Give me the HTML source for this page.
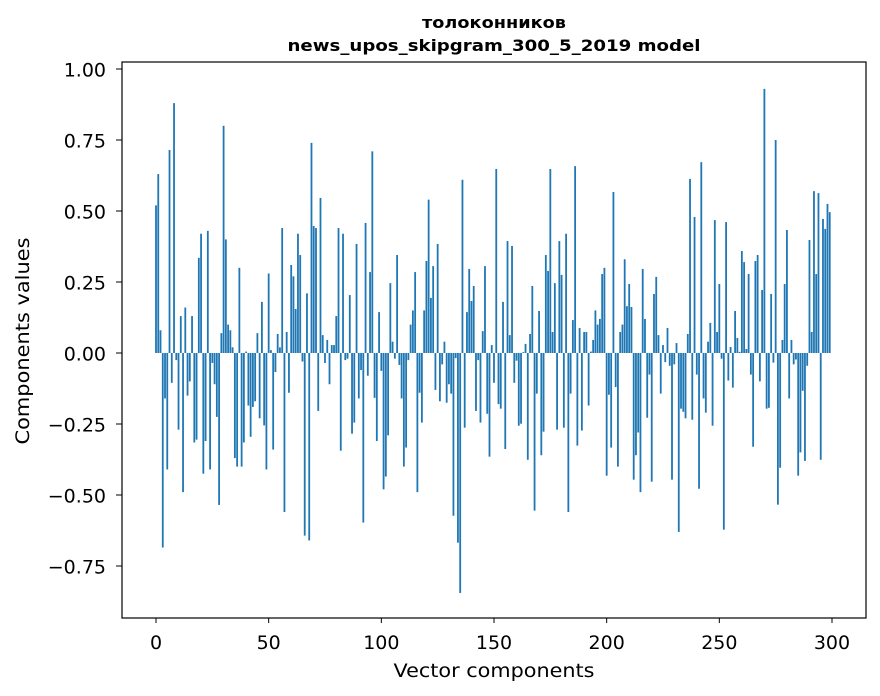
<!DOCTYPE html>
<html><head><meta charset="utf-8"><style>
html,body{margin:0;padding:0;background:#fff;}
svg{display:block;font-family:"DejaVu Sans","Liberation Sans","Noto Sans CJK SC",sans-serif;}
</style></head><body>
<svg id="chart" width="880" height="696" viewBox="0 0 880 696" xmlns="http://www.w3.org/2000/svg">
<rect width="880" height="696" fill="#fff"/>
<text x="494" y="28" text-anchor="middle" font-size="16" font-weight="bold" textLength="144" lengthAdjust="spacingAndGlyphs">толоконников</text>
<text x="494" y="51" text-anchor="middle" font-size="16" font-weight="bold" textLength="413" lengthAdjust="spacingAndGlyphs">news_upos_skipgram_300_5_2019 model</text>
<g id="bars"></g>
<g id="xticks"></g>
<g id="yticks"></g>
<rect x="122" y="62" width="744" height="556" fill="none" stroke="#000" stroke-width="1.2"/>
<text x="494" y="677" text-anchor="middle" font-size="19" textLength="201" lengthAdjust="spacingAndGlyphs">Vector components</text>
<text transform="translate(29,341) rotate(-90)" text-anchor="middle" font-size="19" textLength="207" lengthAdjust="spacingAndGlyphs">Components values</text>
</svg>
<script>
const values = [
0.52,0.63,0.08,-0.685,-0.16,-0.41,0.715,-0.105,0.88,-0.025,
-0.27,0.13,-0.49,0.16,-0.15,-0.10,0.13,-0.315,-0.305,0.335,
0.42,-0.425,-0.31,0.43,-0.41,-0.035,-0.11,-0.225,-0.535,0.07,
0.80,0.40,0.10,0.08,0.02,-0.37,-0.40,0.30,-0.40,-0.315,
0.005,-0.185,-0.295,-0.19,-0.17,0.07,-0.23,0.18,-0.255,-0.41,
0.28,0.01,-0.34,-0.067,0.067,0.02,0.44,-0.56,0.074,-0.14,
0.31,0.27,0.155,0.42,0.345,-0.03,-0.643,0.21,-0.66,0.74,
0.447,0.44,-0.204,0.546,0.063,-0.035,0.046,-0.11,0.028,0.028,
0.13,0.44,-0.344,0.42,-0.025,-0.02,0.204,-0.284,-0.245,0.384,
-0.16,-0.06,-0.597,0.458,-0.08,0.285,0.71,-0.158,-0.31,0.144,
-0.063,-0.48,-0.435,-0.29,0.246,0.04,-0.02,0.345,-0.042,-0.16,
-0.40,-0.333,-0.025,0.10,0.15,0.285,-0.49,-0.14,-0.245,0.15,
0.324,0.54,0.194,0.306,-0.13,0.384,-0.17,-0.04,0.04,-0.175,
-0.11,-0.143,-0.573,-0.018,-0.668,-0.845,0.61,-0.263,0.144,0.296,
0.183,0.236,-0.204,-0.025,-0.245,0.077,0.306,-0.214,-0.365,0.028,
-0.105,0.648,-0.18,-0.196,0.18,-0.338,0.394,0.063,0.377,-0.105,
-0.027,-0.256,-0.249,0.003,0.032,-0.376,0.067,0.236,-0.555,-0.143,
0.148,-0.36,-0.277,0.345,0.289,0.648,0.074,0.246,-0.27,0.394,
0.275,-0.263,0.42,-0.56,-0.143,0.116,0.658,-0.326,0.088,-0.273,
0.074,0.074,-0.185,0.005,0.046,0.15,0.10,0.12,0.278,0.30,
-0.432,-0.147,-0.333,0.567,-0.12,-0.40,0.074,0.10,0.33,0.165,
0.243,0.162,-0.446,-0.36,-0.28,-0.49,0.296,0.12,-0.228,-0.076,
-0.453,0.208,0.268,0.063,-0.143,0.028,-0.032,0.088,-0.045,-0.446,
-0.04,0.035,-0.63,-0.196,-0.207,-0.23,0.067,0.613,-0.235,0.479,
-0.076,-0.478,0.672,-0.16,-0.21,0.04,0.106,-0.256,0.468,0.074,
0.243,-0.02,-0.622,0.461,-0.097,0.021,-0.122,0.148,0.053,0.004,
0.359,0.32,0.014,0.278,-0.076,-0.33,0.324,0.345,-0.10,0.222,
0.93,-0.196,-0.193,0.208,-0.034,0.75,-0.534,-0.404,0.046,0.243,
0.433,-0.16,0.046,-0.04,-0.023,-0.432,-0.35,-0.133,-0.38,-0.045,
0.398,0.074,0.57,0.278,0.563,-0.376,0.472,0.437,0.525,0.496
];
const xTickValues = [0,50,100,150,200,250,300];
const yTickValues = [-0.75,-0.5,-0.25,0,0.25,0.5,0.75,1.0];
const yTickLabels = ["\u22120.75","\u22120.50","\u22120.25","0.00","0.25","0.50","0.75","1.00"];

const NS = "http://www.w3.org/2000/svg";
const xScale = v => 156 + v * 2.2533;
const yScale = v => 353 - v * 284;
const barW = 0.8 * 2.2533;

const gb = document.getElementById('bars');
values.forEach((v, i) => {
  const r = document.createElementNS(NS, 'rect');
  const y0 = yScale(0), y1 = yScale(v);
  r.setAttribute('x', xScale(i) - barW / 2);
  r.setAttribute('y', Math.min(y0, y1));
  r.setAttribute('width', barW);
  r.setAttribute('height', Math.max(Math.abs(y1 - y0), 0.3));
  r.setAttribute('fill', '#1f77b4');
  
  
  gb.appendChild(r);
});

const gx = document.getElementById('xticks');
xTickValues.forEach(t => {
  const x = xScale(t);
  const l = document.createElementNS(NS, 'line');
  l.setAttribute('x1', x); l.setAttribute('x2', x);
  l.setAttribute('y1', 618); l.setAttribute('y2', 623);
  l.setAttribute('stroke', '#000');
  
  
  gx.appendChild(l);
  const tx = document.createElementNS(NS, 'text');
  tx.setAttribute('x', x); tx.setAttribute('y', 649);
  tx.setAttribute('text-anchor', 'middle');
  tx.setAttribute('font-size', '19');
  tx.textContent = String(t);
  
  
  gx.appendChild(tx);
});

const gy = document.getElementById('yticks');
yTickValues.forEach((t, k) => {
  const y = yScale(t);
  const l = document.createElementNS(NS, 'line');
  l.setAttribute('x1', 116); l.setAttribute('x2', 122);
  l.setAttribute('y1', y); l.setAttribute('y2', y);
  l.setAttribute('stroke', '#000');
  
  
  gy.appendChild(l);
  const tx = document.createElementNS(NS, 'text');
  tx.setAttribute('x', 106); tx.setAttribute('y', y + 7.5);
  tx.setAttribute('text-anchor', 'end');
  tx.setAttribute('font-size', '19');
  tx.textContent = yTickLabels[k];
  
  
  gy.appendChild(tx);
});
</script>
</body></html>
